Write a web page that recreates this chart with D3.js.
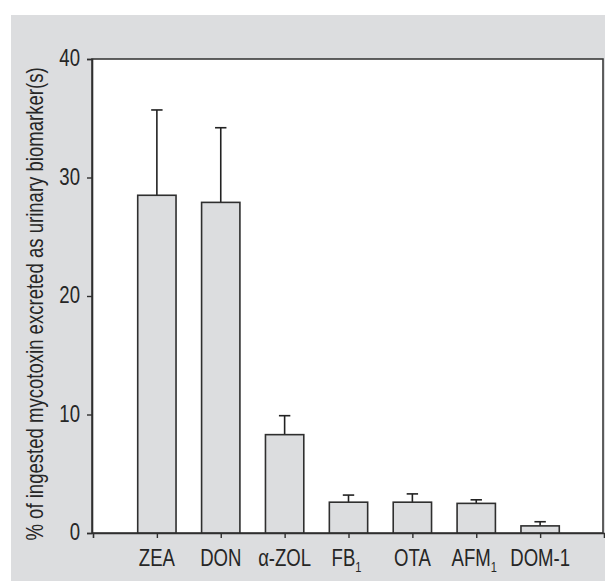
<!DOCTYPE html>
<html>
<head>
<meta charset="utf-8">
<script src="https://cdn.jsdelivr.net/npm/d3@7"></script>
<style>
  body { margin: 0; background: #fff; }
  svg { display: block; }
  text { font-family: "Liberation Sans", Arial, sans-serif; fill: #262626; }
</style>
</head>
<body>
<svg width="605" height="581"></svg>
<script>
const categories = ["ZEA", "DON", "α-ZOL", "FB", "OTA", "AFM", "DOM-1"];
const subscripts = ["", "", "", "1", "", "1", ""];
const means = [28.5, 27.9, 8.3, 2.6, 2.6, 2.5, 0.6];
const upperErr = [35.7, 34.2, 9.9, 3.2, 3.3, 2.8, 0.95];
const yTicks = [0, 10, 20, 30, 40];

const svg = d3.select("svg");
const plot = { left: 92, right: 603, top: 59, bottom: 533 };
const narrow = "scale(0.79,1)"; // condensed look of the original type
const fs = 23.5;

// gray panel
svg.append("rect")
  .attr("x", 11).attr("y", 15)
  .attr("width", 605 - 11).attr("height", 581 - 15)
  .attr("fill", "#dcdddf");

// white plot area
svg.append("rect")
  .attr("x", plot.left).attr("y", plot.top)
  .attr("width", plot.right - plot.left).attr("height", plot.bottom - plot.top)
  .attr("fill", "#fff")
  .attr("stroke", "#3a3a3a")
  .attr("stroke-width", 1.6);

const x = d3.scalePoint()
  .domain(categories)
  .range([plot.left + 1, plot.right + 1])
  .padding(1);
const barW = x.step() * 0.6;

const y = d3.scaleLinear()
  .domain([0, 40])
  .range([plot.bottom, plot.top]);

// error bars (upper only)
const err = svg.append("g")
  .selectAll("g")
  .data(categories)
  .join("g")
  .attr("stroke", "#222")
  .attr("stroke-width", 1.6);
err.append("line")
  .attr("x1", d => x(d)).attr("x2", d => x(d))
  .attr("y1", (d, i) => y(means[i])).attr("y2", (d, i) => y(upperErr[i]));
err.append("line")
  .attr("x1", d => x(d) - 5.7).attr("x2", d => x(d) + 5.7)
  .attr("y1", (d, i) => y(upperErr[i])).attr("y2", (d, i) => y(upperErr[i]));

// bars
svg.append("g")
  .selectAll("rect")
  .data(categories)
  .join("rect")
  .attr("x", d => x(d) - barW / 2)
  .attr("y", (d, i) => y(means[i]))
  .attr("width", barW)
  .attr("height", (d, i) => y(0) - y(means[i]))
  .attr("fill", "#dcdddf")
  .attr("stroke", "#2f2f2f")
  .attr("stroke-width", 1.6);

// y axis (labels drawn separately so they can be condensed)
const yAxis = svg.append("g")
  .attr("transform", `translate(${plot.left},0)`)
  .call(d3.axisLeft(y).tickValues(yTicks).tickSize(5).tickFormat(""));
yAxis.select(".domain").attr("stroke", "#2f2f2f").attr("stroke-width", 1.6);
yAxis.selectAll(".tick line").attr("stroke", "#2f2f2f").attr("stroke-width", 1.4);

svg.append("g")
  .selectAll("g")
  .data(yTicks)
  .join("g")
  .attr("transform", d => `translate(80,${y(d)})`)
  .append("text")
  .attr("transform", narrow)
  .attr("text-anchor", "end")
  .attr("dy", "0.3em")
  .attr("font-size", fs)
  .text(d => d);

// x axis ticks
const xAxis = svg.append("g")
  .attr("transform", `translate(0,${plot.bottom})`)
  .call(d3.axisBottom(x).tickSize(5).tickFormat(""));
xAxis.select(".domain").attr("stroke", "#2f2f2f").attr("stroke-width", 1.6);
xAxis.selectAll(".tick line").attr("stroke", "#2f2f2f").attr("stroke-width", 1.4);

// x labels with subscripts
const xl = svg.append("g")
  .selectAll("g")
  .data(categories)
  .join("g")
  .attr("transform", (d, i) => `translate(${x(d) + (subscripts[i] ? -2 : 0)},566)`)
  .append("text")
  .attr("transform", narrow)
  .attr("text-anchor", "middle")
  .attr("font-size", fs);
xl.append("tspan").text(d => d);
xl.append("tspan")
  .attr("font-size", 14)
  .attr("dy", 6)
  .text((d, i) => subscripts[i]);

// y title
svg.append("text")
  .attr("transform", "translate(43,304) rotate(-90) " + narrow)
  .attr("text-anchor", "middle")
  .attr("font-size", fs)
  .text("% of ingested mycotoxin excreted as urinary biomarker(s)");
</script>
</body>
</html>
